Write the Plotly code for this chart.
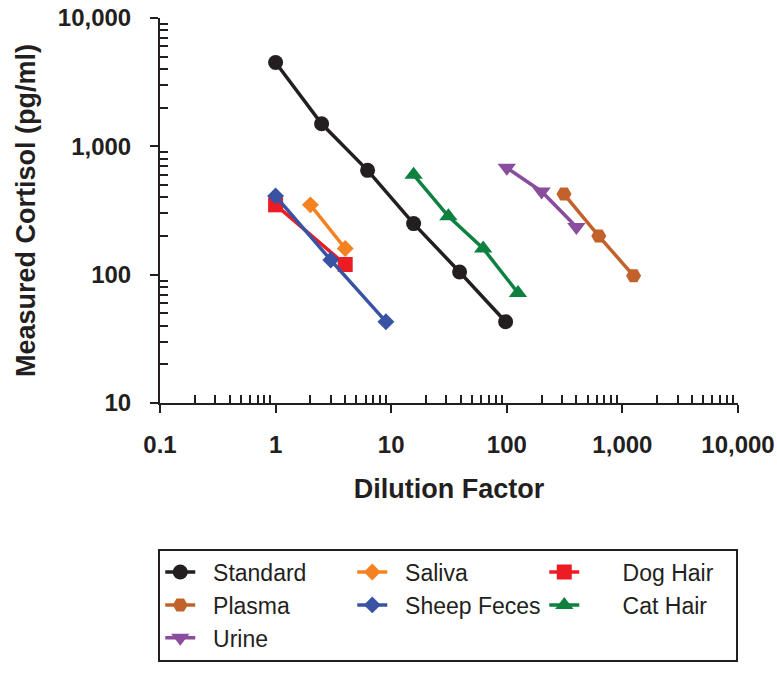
import plotly.graph_objects as go

# ---- data ----
standard_x = [1, 2.5, 6.25, 15.625, 39.06, 97.66]
standard_y = [4500, 1500, 650, 250, 105, 43]

saliva_x = [2, 4]
saliva_y = [350, 160]

doghair_x = [1, 4]
doghair_y = [350, 120]

plasma_x = [312.5, 625, 1250]
plasma_y = [425, 200, 98]

sheep_x = [1, 3, 9]
sheep_y = [410, 130, 43]

cathair_x = [15.625, 31.25, 62.5, 125]
cathair_y = [600, 285, 160, 72]

urine_x = [100, 200, 400]
urine_y = [680, 445, 235]

x_tickvals = [0.1, 1, 10, 100, 1000, 10000]
x_ticktext = ["0.1", "1", "10", "100", "1,000", "10,000"]
y_tickvals = [10, 100, 1000, 10000]
y_ticktext = ["10", "100", "1,000", "10,000"]

minor_x = [k * 10 ** d for d in range(-1, 4) for k in range(2, 10)]
minor_y = [k * 10 ** d for d in range(1, 4) for k in range(2, 10)]

# name, x, y, colour, symbol, size, legend text indent (nbsp count)
series = [
    ("Standard", standard_x, standard_y, "#231f20", "circle", 15, 2),
    ("Saliva", saliva_x, saliva_y, "#f58220", "diamond", 13, 2),
    ("Dog Hair", doghair_x, doghair_y, "#ed1c24", "square", 15, 6),
    ("Plasma", plasma_x, plasma_y, "#c2622a", "hexagon2", 15, 2),
    ("Sheep Feces", sheep_x, sheep_y, "#3953a4", "diamond", 13, 2),
    ("Cat Hair", cathair_x, cathair_y, "#0e8140", "triangle-up", 16, 6),
    ("Urine", urine_x, urine_y, "#8a4d9e", "triangle-down", 16, 2),
]

fig = go.Figure()
for name, xs, ys, color, sym, size, pad in series:
    fig.add_trace(go.Scatter(
        x=xs, y=ys, name="\u00a0" * pad + name, mode="lines+markers",
        line=dict(color=color, width=3.5),
        marker=dict(color=color, symbol=sym, size=size, line=dict(width=0)),
    ))

FAM = "Liberation Sans, Arial, sans-serif"
title_font = dict(family=FAM, size=27, color="#231f20")
tick_font = dict(family=FAM, size=24, color="#231f20", weight="bold")

fig.update_xaxes(
    type="log", range=[-1, 4], automargin=False,
    showline=True, linecolor="#231f20", linewidth=2,
    showgrid=False, zeroline=False,
    tickmode="array", tickvals=x_tickvals, ticktext=x_ticktext,
    ticks="outside", ticklen=8, tickwidth=2, tickcolor="#231f20",
    tickfont=tick_font, ticklabelstandoff=11,
    minor=dict(tickmode="array", tickvals=minor_x, ticks="inside", ticklen=8,
               tickwidth=1.5, tickcolor="#231f20", showgrid=False),
    title=dict(text="<b>Dilution Factor</b>", font=title_font, standoff=22),
)
fig.update_yaxes(
    type="log", range=[1, 4], automargin=False,
    showline=True, linecolor="#231f20", linewidth=2,
    showgrid=False, zeroline=False,
    tickmode="array", tickvals=y_tickvals, ticktext=y_ticktext,
    ticks="outside", ticklen=8, tickwidth=2, tickcolor="#231f20",
    tickfont=tick_font, ticklabelstandoff=14,
    minor=dict(tickmode="array", tickvals=minor_y, ticks="inside", ticklen=8,
               tickwidth=1.5, tickcolor="#231f20", showgrid=False),
    title=dict(text="<b>Measured Cortisol (pg/ml)</b>", font=title_font, standoff=14),
)

fig.update_layout(
    width=777, height=674,
    margin=dict(l=160, r=39, t=18, b=271),
    paper_bgcolor="white", plot_bgcolor="white",
    showlegend=True,
    legend=dict(
        orientation="h", x=-0.003, xanchor="left", y=-0.378, yanchor="top",
        bordercolor="#231f20", borderwidth=2, bgcolor="white",
        font=dict(family=FAM, size=23, color="#231f20"),
        entrywidth=147, entrywidthmode="pixels",
        traceorder="normal", itemsizing="trace",
    ),
)

fig.write_html("out.html")
